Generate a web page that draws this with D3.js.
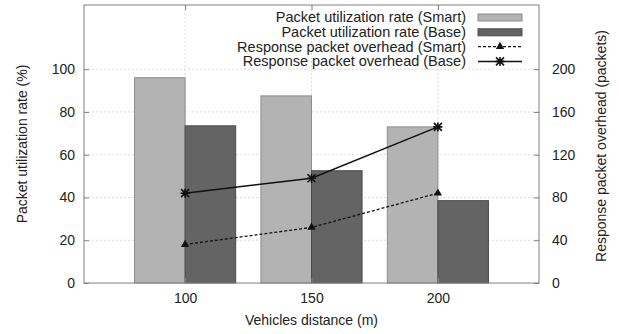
<!DOCTYPE html>
<html>
<head>
<meta charset="utf-8">
<script src="https://cdn.jsdelivr.net/npm/d3@7"></script>
<style>
  body { margin: 0; background: #fff; }
  svg { font-family: "Liberation Sans", Arial, sans-serif; }
</style>
</head>
<body>
<svg id="chart" width="619" height="334"></svg>
<script>
// data
const distances = [100, 150, 200];
const utilSmart = [96, 87.5, 73];
const utilBase = [73.5, 52.5, 38.5];
const overheadSmart = [36, 52, 84];
const overheadBase = [84, 98, 146];
const leftTicks = [0, 20, 40, 60, 80, 100];
const rightTicks = [0, 40, 80, 120, 160, 200];

const W = 619, H = 334;
const margin = { top: 5, right: 80, bottom: 51, left: 84 };
const plotW = W - margin.left - margin.right;
const plotH = H - margin.top - margin.bottom;
const FS = 14;

const svg = d3.select('#chart');
const g = svg.append('g').attr('transform', `translate(${margin.left},${margin.top})`);

const x = d3.scaleLinear().domain([60, 240]).range([0, plotW]);
const yL = d3.scaleLinear().domain([0, 130]).range([plotH, 0]);
const yR = d3.scaleLinear().domain([0, 260]).range([plotH, 0]);
const barW = x(20) - x(0);

// grid
g.selectAll('.hgrid').data(leftTicks.slice(1)).enter().append('line')
    .attr('x1', 0).attr('x2', plotW)
    .attr('y1', d => yL(d)).attr('y2', d => yL(d))
    .attr('stroke', '#dcdcdc').attr('stroke-dasharray', '2,2');
g.selectAll('.vgrid').data(distances).enter().append('line')
    .attr('x1', d => x(d)).attr('x2', d => x(d))
    .attr('y1', 0).attr('y2', plotH)
    .attr('stroke', '#dcdcdc').attr('stroke-dasharray', '2,2');

// bars
g.selectAll('.bs').data(distances).enter().append('rect')
    .attr('x', d => x(d) - barW).attr('width', barW)
    .attr('y', (d, i) => yL(utilSmart[i]))
    .attr('height', (d, i) => plotH - yL(utilSmart[i]))
    .attr('fill', '#b3b3b3').attr('stroke', '#8c8c8c');
g.selectAll('.bb').data(distances).enter().append('rect')
    .attr('x', d => x(d)).attr('width', barW)
    .attr('y', (d, i) => yL(utilBase[i]))
    .attr('height', (d, i) => plotH - yL(utilBase[i]))
    .attr('fill', '#646464').attr('stroke', '#4a4a4a');

// lines
const line = d3.line().x(d => x(d[0])).y(d => yR(d[1]));
const smartPts = distances.map((d, i) => [d, overheadSmart[i]]);
const basePts = distances.map((d, i) => [d, overheadBase[i]]);
g.append('path').datum(smartPts).attr('d', line)
    .attr('fill', 'none').attr('stroke', '#111').attr('stroke-width', 1.3)
    .attr('stroke-dasharray', '3,2');
g.append('path').datum(basePts).attr('d', line)
    .attr('fill', 'none').attr('stroke', '#111').attr('stroke-width', 1.5);

const tri = d3.symbol().type(d3.symbolTriangle).size(30);
const star = 'M-4,-4L4,4M-4,4L4,-4M0,-4.5L0,4.5M-4.5,0L4.5,0';
g.selectAll('.ms').data(smartPts).enter().append('path')
    .attr('transform', d => `translate(${x(d[0])},${yR(d[1])})`)
    .attr('d', tri).attr('fill', '#111');
g.selectAll('.mb').data(basePts).enter().append('path')
    .attr('transform', d => `translate(${x(d[0])},${yR(d[1])})`)
    .attr('d', star).attr('stroke', '#111').attr('stroke-width', 1.6);

// frame and axes
g.append('rect').attr('width', plotW).attr('height', plotH)
    .attr('fill', 'none').attr('stroke', '#808080');

const axL = g.append('g').call(d3.axisLeft(yL).tickValues(leftTicks).tickSize(-5).tickPadding(9));
const axR = g.append('g').attr('transform', `translate(${plotW},0)`)
    .call(d3.axisRight(yR).tickValues(rightTicks).tickSize(-5).tickPadding(13));
const axB = g.append('g').attr('transform', `translate(0,${plotH})`)
    .call(d3.axisBottom(x).tickValues(distances).tickSize(-5).tickPadding(10));
const axT = g.append('g')
    .call(d3.axisTop(x).tickValues(distances).tickSize(-5).tickFormat(''));
[axL, axR, axB, axT].forEach(a => {
    a.select('.domain').remove();
    a.selectAll('line').attr('stroke', '#808080');
    a.selectAll('text').attr('font-size', FS).attr('fill', '#222')
        .attr('font-family', '"Liberation Sans", Arial, sans-serif');
});

// axis titles
svg.append('text').attr('transform', `translate(27,${margin.top + plotH / 2}) rotate(-90)`)
    .attr('text-anchor', 'middle').attr('font-size', FS).attr('fill', '#222')
    .text('Packet utilization rate (%)');
svg.append('text').attr('transform', `translate(606,${margin.top + plotH / 2 + 2}) rotate(-90)`)
    .attr('text-anchor', 'middle').attr('font-size', FS).attr('fill', '#222')
    .text('Response packet overhead (packets)');
svg.append('text').attr('x', margin.left + plotW / 2).attr('y', 325)
    .attr('text-anchor', 'middle').attr('font-size', FS).attr('fill', '#222')
    .text('Vehicles distance (m)');

// legend
const legendItems = [
    { label: 'Packet utilization rate (Smart)', kind: 'bar', fill: '#b3b3b3', stroke: '#8c8c8c' },
    { label: 'Packet utilization rate (Base)', kind: 'bar', fill: '#646464', stroke: '#4a4a4a' },
    { label: 'Response packet overhead (Smart)', kind: 'dash' },
    { label: 'Response packet overhead (Base)', kind: 'solid' }
];
const lg = svg.append('g');
legendItems.forEach((it, i) => {
    const yy = 17 + i * 14.8;
    lg.append('text').attr('x', 466).attr('y', yy + 5)
        .attr('text-anchor', 'end').attr('font-size', 14.5).attr('fill', '#222')
        .text(it.label);
    if (it.kind === 'bar') {
        lg.append('rect').attr('x', 478).attr('y', yy - 3).attr('width', 44).attr('height', 7)
            .attr('fill', it.fill).attr('stroke', it.stroke);
    } else {
        lg.append('line').attr('x1', 478).attr('x2', 522).attr('y1', yy).attr('y2', yy)
            .attr('stroke', '#111').attr('stroke-width', it.kind === 'dash' ? 1.3 : 1.5)
            .attr('stroke-dasharray', it.kind === 'dash' ? '3,2' : null);
        const m = lg.append('path').attr('transform', `translate(500,${yy})`);
        if (it.kind === 'dash') m.attr('d', tri).attr('fill', '#111');
        else m.attr('d', star).attr('stroke', '#111').attr('stroke-width', 1.6);
    }
});
</script>
</body>
</html>
